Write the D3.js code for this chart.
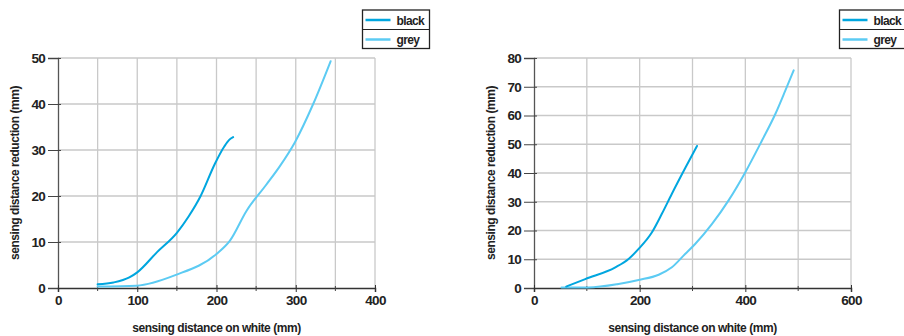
<!DOCTYPE html>
<html><head><meta charset="utf-8">
<script src="https://cdn.jsdelivr.net/npm/d3@7"></script>
<style>
body{margin:0;background:#fff;}
svg text{font-family:"Liberation Sans",Arial,sans-serif;font-weight:bold;fill:#222;}
</style></head>
<body><svg id="c" width="904" height="336"></svg>
<script>
// Chart 1 data
const c1BlackX = [50, 70, 90, 100, 125, 150, 165, 180, 198, 210, 216, 221];
const c1BlackY = [0.8, 1.2, 2.3, 3.4, 7.8, 12, 15.6, 20, 27, 30.8, 32.2, 32.8];
const c1GreyX = [50, 99, 148, 200, 217, 238, 263, 280, 299, 322, 344];
const c1GreyY = [0.3, 0.5, 2.8, 7.4, 10.3, 16.8, 22.5, 26.5, 31.7, 40, 49.3];
const c1XTicks = [0, 100, 200, 300, 400];
const c1YTicks = [0, 10, 20, 30, 40, 50];
// Chart 2 data
const c2BlackX = [61, 97, 154, 179, 198, 223, 242, 261, 287, 308.5];
const c2BlackY = [0.5, 3.1, 7.2, 10.1, 13.6, 19.3, 25.8, 32.8, 42, 49.4];
const c2GreyX = [52, 103, 160, 198, 236, 261, 286, 305, 337, 368, 400, 431.5, 457, 476, 491.5];
const c2GreyY = [0.2, 0.2, 1.4, 2.8, 4.6, 7.2, 11.8, 15.3, 22.3, 30.4, 40.3, 51.3, 60.6, 68.8, 75.7];
const c2XTicks = [0, 200, 400, 600];
const c2YTicks = [0, 10, 20, 30, 40, 50, 60, 70, 80];
const seriesNames = ["black", "grey"];
const xTitle = "sensing distance on white (mm)";
const yTitle = "sensing distance reduction (mm)";

const colors = {black: "#00a6df", grey: "#5ccbf3"};
const svg = d3.select("#c");

function chart(o) {
  const g = svg.append("g");
  const x = d3.scaleLinear().domain([0, o.xmax]).range([o.x0, o.x1]);
  const y = d3.scaleLinear().domain([0, o.ymax]).range([o.y0, o.y1]);
  const vg = d3.range(o.gridStep, o.xmax + 0.1, o.gridStep);
  g.selectAll(".vg").data(vg).join("line")
    .attr("x1", d => x(d)).attr("x2", d => x(d)).attr("y1", o.y0).attr("y2", o.y1)
    .attr("stroke", "#c9c9c9").attr("stroke-width", 1.3);
  g.selectAll(".hg").data(o.yTicks.slice(1)).join("line")
    .attr("x1", o.x0).attr("x2", o.x1).attr("y1", d => y(d)).attr("y2", d => y(d))
    .attr("stroke", "#c9c9c9").attr("stroke-width", 1.3);
  const ya = d3.axisLeft(y).tickValues(o.yTicks).tickSize(10).tickPadding(3).tickFormat(d3.format("d"));
  const yg = g.append("g").attr("transform", `translate(${o.x0},0)`).call(ya);
  yg.select(".domain").attr("stroke", "#555").attr("stroke-width", 1.3);
  yg.selectAll(".tick line").attr("stroke", "#444").attr("x2", 3).attr("x1", -10).attr("stroke-width", 1);
  yg.selectAll("text").style("font-size", "13.5px").style("letter-spacing", "-0.7px").attr("fill", "#222");
  const xa = d3.axisBottom(x).tickValues(o.xTicks).tickSize(4).tickPadding(3).tickFormat(d3.format("d"));
  const xg = g.append("g").attr("transform", `translate(0,${o.y0})`).call(xa);
  xg.select(".domain").attr("stroke", "#333").attr("stroke-width", 1.5);
  xg.selectAll(".tick line").attr("stroke", "#333").attr("y1", -3).attr("stroke-width", 1);
  xg.selectAll("text").style("font-size", "13.5px").style("letter-spacing", "-0.7px").attr("fill", "#222");
  g.selectAll(".mt").data(vg.filter(v => o.xTicks.indexOf(v) < 0)).join("line")
    .attr("x1", d => x(d)).attr("x2", d => x(d)).attr("y1", o.y0 - 2).attr("y2", o.y0 + 3)
    .attr("stroke", "#444").attr("stroke-width", 1);
  g.append("text").attr("x", (o.x0 + o.x1) / 2).attr("y", 332).attr("text-anchor", "middle")
    .style("font-size", "12px").style("letter-spacing", "-0.45px").text(xTitle);
  g.append("text").attr("transform", `translate(${o.ytx},${(o.y0 + o.y1) / 2}) rotate(-90)`)
    .attr("text-anchor", "middle").style("font-size", "12px").style("letter-spacing", "-0.45px").text(yTitle);
  const line = d3.line().x(d => x(d[0])).y(d => y(d[1])).curve(d3.curveMonotoneX);
  const data = [
    {name: "grey", pts: d3.zip(o.greyX, o.greyY)},
    {name: "black", pts: d3.zip(o.blackX, o.blackY)}
  ];
  g.selectAll(".ln").data(data).join("path")
    .attr("d", d => line(d.pts)).attr("fill", "none")
    .attr("stroke", d => colors[d.name]).attr("stroke-width", 2).attr("stroke-linecap", "round");
  const lg = g.append("g");
  lg.append("rect").attr("x", o.lx).attr("y", 10).attr("width", 67).attr("height", 38.5)
    .attr("fill", "#fff").attr("stroke", "#222").attr("stroke-width", 1.3);
  lg.append("line").attr("x1", o.lx).attr("x2", o.lx + 67).attr("y1", 29.5).attr("y2", 29.5)
    .attr("stroke", "#222").attr("stroke-width", 1);
  seriesNames.forEach((s, i) => {
    const cy = 20 + i * 19.5;
    lg.append("line").attr("x1", o.lx + 3).attr("x2", o.lx + 28).attr("y1", cy).attr("y2", cy)
      .attr("stroke", colors[s]).attr("stroke-width", 2.5);
    lg.append("text").attr("x", o.lx + 34).attr("y", cy + 4.5).style("font-size", "12px")
      .style("letter-spacing", "-0.6px").text(s);
  });
}

chart({xmax: 400, ymax: 50, x0: 58, x1: 375, y0: 288, y1: 58, gridStep: 50,
  xTicks: c1XTicks, yTicks: c1YTicks, blackX: c1BlackX, blackY: c1BlackY, greyX: c1GreyX, greyY: c1GreyY,
  ytx: 19, lx: 362.5});
chart({xmax: 600, ymax: 80, x0: 534, x1: 851, y0: 288, y1: 58, gridStep: 100,
  xTicks: c2XTicks, yTicks: c2YTicks, blackX: c2BlackX, blackY: c2BlackY, greyX: c2GreyX, greyY: c2GreyY,
  ytx: 495, lx: 839.5});
</script></body></html>
